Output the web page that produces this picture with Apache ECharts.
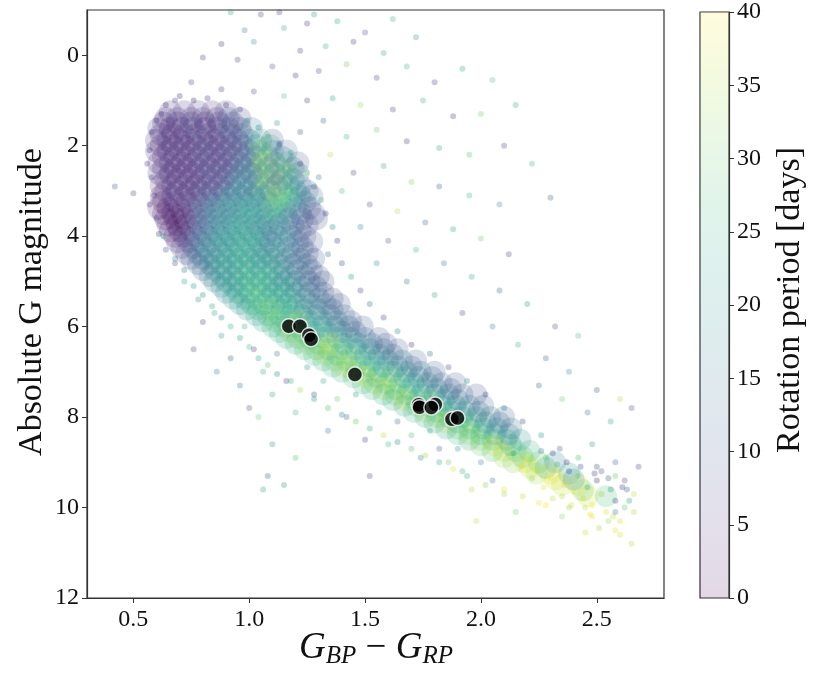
<!DOCTYPE html>
<html>
<head>
<meta charset="utf-8">
<script src="https://cdn.jsdelivr.net/npm/echarts@6/dist/echarts.min.js"></script>
<style>
  html, body { margin: 0; padding: 0; background: #fff; }
  #chart { width: 831px; height: 673px; }
</style>
</head>
<body>
<div id="chart"></div>
<script>
// viridis colormap used for the rotation period
var viridis = ['#440154', '#482878', '#3e4989', '#31688e', '#26828e',
  '#1f9e89', '#35b779', '#6ece58', '#b5de2b', '#fde725'];

// [G_BP - G_RP, M_G, period]  crowded parts of the diagram, one dot per crowded patch
var denseTurnoff = [
  [0.66, 1.25, 6], [0.72, 1.25, 5], [0.78, 1.25, 7], [0.84, 1.25, 4], [0.90, 1.25, 8],
  [0.63, 1.5, 5], [0.69, 1.5, 4], [0.75, 1.5, 6], [0.81, 1.5, 5], [0.87, 1.5, 7], [0.93, 1.5, 9],
  [0.62, 1.75, 5], [0.67, 1.75, 4], [0.72, 1.75, 6], [0.77, 1.75, 5], [0.82, 1.75, 7], [0.87, 1.75, 6], [0.92, 1.75, 8], [0.97, 1.75, 12],
  [0.62, 2.0, 4], [0.67, 2.0, 5], [0.72, 2.0, 4], [0.77, 2.0, 6], [0.82, 2.0, 5], [0.87, 2.0, 7], [0.92, 2.0, 6], [0.97, 2.0, 10], [1.03, 2.0, 18], [1.09, 2.0, 26],
  [0.63, 2.25, 5], [0.68, 2.25, 4], [0.73, 2.25, 6], [0.78, 2.25, 5], [0.83, 2.25, 4], [0.88, 2.25, 8], [0.93, 2.25, 7], [0.98, 2.25, 12], [1.03, 2.25, 14], [1.08, 2.25, 30], [1.14, 2.25, 12],
  [0.63, 2.5, 4], [0.68, 2.5, 5], [0.73, 2.5, 4], [0.78, 2.5, 6], [0.83, 2.5, 5], [0.88, 2.5, 7], [0.93, 2.5, 9], [0.98, 2.5, 14], [1.03, 2.5, 26], [1.08, 2.5, 12], [1.13, 2.5, 32], [1.19, 2.5, 18],
  [0.64, 2.75, 5], [0.69, 2.75, 4], [0.74, 2.75, 5], [0.79, 2.75, 6], [0.84, 2.75, 4], [0.89, 2.75, 8], [0.94, 2.75, 11], [0.99, 2.75, 18], [1.04, 2.75, 12], [1.09, 2.75, 33], [1.14, 2.75, 10], [1.19, 2.75, 20],
  [0.64, 3.0, 4], [0.69, 3.0, 5], [0.74, 3.0, 3], [0.79, 3.0, 6], [0.84, 3.0, 7], [0.89, 3.0, 10], [0.94, 3.0, 14], [0.99, 3.0, 20], [1.04, 3.0, 26], [1.09, 3.0, 14], [1.14, 3.0, 30], [1.20, 3.0, 22], [1.25, 3.0, 14],
  [0.63, 3.25, 3], [0.68, 3.25, 4], [0.73, 3.25, 5], [0.78, 3.25, 8], [0.83, 3.25, 10], [0.88, 3.25, 13], [0.93, 3.25, 16], [0.98, 3.25, 19], [1.03, 3.25, 22], [1.08, 3.25, 12], [1.13, 3.25, 28], [1.18, 3.25, 24], [1.24, 3.25, 16],
  [0.63, 3.5, 2], [0.67, 3.5, 2], [0.71, 3.5, 3], [0.76, 3.5, 9], [0.81, 3.5, 13], [0.86, 3.5, 16], [0.91, 3.5, 18], [0.96, 3.5, 20], [1.01, 3.5, 18], [1.06, 3.5, 22], [1.11, 3.5, 20], [1.16, 3.5, 17], [1.22, 3.5, 12], [1.28, 3.5, 9],
  [0.65, 3.75, 2], [0.69, 3.75, 2], [0.73, 3.75, 4], [0.78, 3.75, 10], [0.83, 3.75, 14], [0.88, 3.75, 17], [0.93, 3.75, 19], [0.98, 3.75, 21], [1.03, 3.75, 18], [1.08, 3.75, 16], [1.13, 3.75, 14], [1.19, 3.75, 12], [1.25, 3.75, 10],
  [0.68, 4.0, 3], [0.72, 4.0, 5], [0.77, 4.0, 11], [0.82, 4.0, 15], [0.87, 4.0, 18], [0.92, 4.0, 20], [0.97, 4.0, 22], [1.02, 4.0, 19], [1.07, 4.0, 17], [1.12, 4.0, 15], [1.18, 4.0, 13], [1.24, 4.0, 11],
  [0.71, 4.25, 6], [0.76, 4.25, 12], [0.81, 4.25, 16], [0.86, 4.25, 19], [0.91, 4.25, 21], [0.96, 4.25, 20], [1.01, 4.25, 22], [1.06, 4.25, 18], [1.11, 4.25, 16], [1.17, 4.25, 14], [1.23, 4.25, 12]
];

var denseTurnoffB = [
  [0.64, 1.4, 5], [0.69, 1.4, 7], [0.75, 1.4, 4], [0.80, 1.4, 6], [0.86, 1.4, 5], [0.91, 1.4, 9], [0.96, 1.4, 7],
  [0.61, 1.62, 6], [0.66, 1.62, 3], [0.71, 1.62, 5], [0.76, 1.62, 8], [0.81, 1.62, 4], [0.86, 1.62, 6], [0.91, 1.62, 10], [0.96, 1.62, 8], [1.01, 1.62, 16],
  [0.60, 1.88, 4], [0.65, 1.88, 6], [0.70, 1.88, 3], [0.75, 1.88, 5], [0.80, 1.88, 7], [0.85, 1.88, 4], [0.90, 1.88, 9], [0.95, 1.88, 6], [1.00, 1.88, 14], [1.05, 1.88, 24], [1.10, 1.88, 10],
  [0.60, 2.12, 5], [0.65, 2.12, 3], [0.70, 2.12, 6], [0.75, 2.12, 4], [0.80, 2.12, 7], [0.85, 2.12, 5], [0.90, 2.12, 6], [0.95, 2.12, 9], [1.00, 2.12, 10], [1.05, 2.12, 30], [1.10, 2.12, 16], [1.16, 2.12, 14],
  [0.61, 2.38, 4], [0.66, 2.38, 6], [0.71, 2.38, 3], [0.76, 2.38, 5], [0.81, 2.38, 8], [0.86, 2.38, 5], [0.91, 2.38, 7], [0.96, 2.38, 11], [1.01, 2.38, 12], [1.06, 2.38, 33], [1.11, 2.38, 14], [1.16, 2.38, 26], [1.21, 2.38, 10],
  [0.61, 2.62, 6], [0.66, 2.62, 3], [0.71, 2.62, 5], [0.76, 2.62, 4], [0.81, 2.62, 6], [0.86, 2.62, 9], [0.91, 2.62, 6], [0.96, 2.62, 16], [1.01, 2.62, 9], [1.06, 2.62, 28], [1.11, 2.62, 15], [1.16, 2.62, 30], [1.21, 2.62, 16],
  [0.62, 2.88, 4], [0.67, 2.88, 5], [0.72, 2.88, 6], [0.77, 2.88, 3], [0.82, 2.88, 8], [0.87, 2.88, 6], [0.92, 2.88, 13], [0.97, 2.88, 17], [1.02, 2.88, 14], [1.07, 2.88, 30], [1.12, 2.88, 11], [1.17, 2.88, 22], [1.22, 2.88, 12],
  [0.62, 3.12, 3], [0.67, 3.12, 6], [0.72, 3.12, 4], [0.77, 3.12, 7], [0.82, 3.12, 9], [0.87, 3.12, 12], [0.92, 3.12, 18], [0.97, 3.12, 15], [1.02, 3.12, 12], [1.07, 3.12, 21], [1.12, 3.12, 31], [1.17, 3.12, 27], [1.22, 3.12, 18], [1.27, 3.12, 11],
  [0.61, 3.38, 2], [0.65, 3.38, 3], [0.70, 3.38, 4], [0.75, 3.38, 6], [0.80, 3.38, 12], [0.85, 3.38, 15], [0.90, 3.38, 20], [0.95, 3.38, 17], [1.00, 3.38, 22], [1.05, 3.38, 19], [1.10, 3.38, 28], [1.15, 3.38, 23], [1.20, 3.38, 15], [1.26, 3.38, 10],
  [0.64, 3.62, 2], [0.68, 3.62, 3], [0.72, 3.62, 2], [0.77, 3.62, 8], [0.82, 3.62, 11], [0.87, 3.62, 18], [0.92, 3.62, 15], [0.97, 3.62, 22], [1.02, 3.62, 20], [1.07, 3.62, 17], [1.12, 3.62, 24], [1.17, 3.62, 13], [1.23, 3.62, 11], [1.29, 3.62, 8],
  [0.66, 3.88, 3], [0.70, 3.88, 2], [0.75, 3.88, 7], [0.80, 3.88, 12], [0.85, 3.88, 16], [0.90, 3.88, 19], [0.95, 3.88, 23], [1.00, 3.88, 17], [1.05, 3.88, 20], [1.10, 3.88, 14], [1.16, 3.88, 18], [1.22, 3.88, 10],
  [0.69, 4.12, 4], [0.74, 4.12, 8], [0.79, 4.12, 13], [0.84, 4.12, 17], [0.89, 4.12, 21], [0.94, 4.12, 18], [0.99, 4.12, 24], [1.04, 4.12, 21], [1.09, 4.12, 15], [1.15, 4.12, 19], [1.21, 4.12, 12], [1.27, 4.12, 9],
  [0.73, 4.38, 7], [0.78, 4.38, 13], [0.83, 4.38, 18], [0.88, 4.38, 16], [0.93, 4.38, 22], [0.98, 4.38, 24], [1.03, 4.38, 20], [1.08, 4.38, 17], [1.13, 4.38, 21], [1.19, 4.38, 13], [1.25, 4.38, 11]
];

var denseBand = [
  [0.75, 4.5, 10], [0.80, 4.5, 14], [0.85, 4.5, 18], [0.90, 4.5, 21], [0.95, 4.5, 22], [1.00, 4.5, 20], [1.05, 4.5, 19], [1.10, 4.5, 17], [1.16, 4.5, 15], [1.22, 4.5, 12], [1.28, 4.5, 10],
  [0.80, 4.75, 14], [0.85, 4.75, 17], [0.90, 4.75, 20], [0.95, 4.75, 22], [1.00, 4.75, 23], [1.05, 4.75, 21], [1.10, 4.75, 19], [1.15, 4.75, 16], [1.21, 4.75, 14], [1.27, 4.75, 11],
  [0.85, 5.0, 17], [0.90, 5.0, 20], [0.95, 5.0, 22], [1.00, 5.0, 24], [1.05, 5.0, 22], [1.10, 5.0, 20], [1.15, 5.0, 18], [1.20, 5.0, 15], [1.26, 5.0, 13], [1.32, 5.0, 10],
  [0.90, 5.25, 19], [0.95, 5.25, 22], [1.00, 5.25, 24], [1.05, 5.25, 25], [1.10, 5.25, 22], [1.15, 5.25, 20], [1.20, 5.25, 18], [1.26, 5.25, 15], [1.32, 5.25, 12],
  [0.96, 5.5, 20], [1.01, 5.5, 23], [1.06, 5.5, 26], [1.11, 5.5, 24], [1.16, 5.5, 22], [1.21, 5.5, 19], [1.27, 5.5, 17], [1.33, 5.5, 14], [1.39, 5.5, 11],
  [1.03, 5.75, 22], [1.08, 5.75, 25], [1.13, 5.75, 27], [1.18, 5.75, 24], [1.23, 5.75, 21], [1.29, 5.75, 18], [1.35, 5.75, 15], [1.41, 5.75, 12],
  [1.10, 6.0, 24], [1.15, 6.0, 28], [1.20, 6.0, 26], [1.25, 6.0, 23], [1.31, 6.0, 20], [1.37, 6.0, 17], [1.43, 6.0, 14], [1.49, 6.0, 10],
  [1.16, 6.25, 25], [1.21, 6.25, 30], [1.26, 6.25, 27], [1.32, 6.25, 24], [1.38, 6.25, 21], [1.44, 6.25, 18], [1.50, 6.25, 14], [1.56, 6.25, 11],
  [1.24, 6.5, 26], [1.29, 6.5, 31], [1.34, 6.5, 28], [1.40, 6.5, 25], [1.46, 6.5, 22], [1.52, 6.5, 18], [1.58, 6.5, 14], [1.64, 6.5, 11],
  [1.32, 6.75, 25], [1.37, 6.75, 32], [1.42, 6.75, 29], [1.48, 6.75, 26], [1.54, 6.75, 22], [1.60, 6.75, 19], [1.66, 6.75, 15], [1.72, 6.75, 12],
  [1.40, 7.0, 26], [1.45, 7.0, 34], [1.50, 7.0, 30], [1.56, 7.0, 26], [1.62, 7.0, 23], [1.68, 7.0, 19], [1.74, 7.0, 15], [1.80, 7.0, 12],
  [1.49, 7.25, 25], [1.54, 7.25, 33], [1.59, 7.25, 29], [1.65, 7.25, 26], [1.71, 7.25, 22], [1.77, 7.25, 18], [1.83, 7.25, 14], [1.89, 7.25, 11],
  [1.58, 7.5, 24], [1.63, 7.5, 31], [1.68, 7.5, 28], [1.74, 7.5, 25], [1.80, 7.5, 21], [1.86, 7.5, 17], [1.92, 7.5, 13], [1.98, 7.5, 10],
  [1.67, 7.75, 23], [1.72, 7.75, 30], [1.77, 7.75, 27], [1.83, 7.75, 24], [1.89, 7.75, 20], [1.95, 7.75, 16], [2.01, 7.75, 12],
  [1.76, 8.0, 24], [1.81, 8.0, 31], [1.86, 8.0, 27], [1.92, 8.0, 23], [1.98, 8.0, 20], [2.04, 8.0, 16], [2.10, 8.0, 12],
  [1.85, 8.25, 23], [1.90, 8.25, 30], [1.95, 8.25, 26], [2.01, 8.25, 23], [2.07, 8.25, 19], [2.13, 8.25, 15],
  [1.95, 8.5, 24], [2.00, 8.5, 32], [2.05, 8.5, 27], [2.11, 8.5, 24], [2.17, 8.5, 20],
  [2.05, 8.75, 28], [2.10, 8.75, 35], [2.15, 8.75, 30], [2.21, 8.75, 25],
  [2.14, 9.0, 32], [2.19, 9.0, 37], [2.25, 9.0, 30], [2.32, 9.0, 18],
  [2.24, 9.25, 34], [2.30, 9.25, 38], [2.38, 9.25, 22],
  [2.35, 9.5, 36], [2.42, 9.5, 39],
  [2.46, 9.75, 37], [2.54, 9.75, 28]
];

var denseBandB = [
  [0.78, 4.62, 12], [0.83, 4.62, 16], [0.88, 4.62, 22], [0.93, 4.62, 19], [0.98, 4.62, 24], [1.03, 4.62, 21], [1.08, 4.62, 23], [1.13, 4.62, 18], [1.19, 4.62, 13], [1.25, 4.62, 12],
  [0.83, 4.88, 15], [0.88, 4.88, 21], [0.93, 4.88, 18], [0.98, 4.88, 25], [1.03, 4.88, 22], [1.08, 4.88, 26], [1.13, 4.88, 20], [1.18, 4.88, 17], [1.24, 4.88, 12], [1.30, 4.88, 9],
  [0.88, 5.12, 18], [0.93, 5.12, 23], [0.98, 5.12, 21], [1.03, 5.12, 27], [1.08, 5.12, 23], [1.13, 5.12, 19], [1.18, 5.12, 22], [1.23, 5.12, 14], [1.29, 5.12, 11],
  [0.93, 5.38, 20], [0.98, 5.38, 24], [1.03, 5.38, 28], [1.08, 5.38, 22], [1.13, 5.38, 25], [1.18, 5.38, 21], [1.24, 5.38, 16], [1.30, 5.38, 13], [1.36, 5.38, 9],
  [0.99, 5.62, 21], [1.04, 5.62, 27], [1.09, 5.62, 31], [1.14, 5.62, 23], [1.19, 5.62, 26], [1.24, 5.62, 18], [1.30, 5.62, 15], [1.36, 5.62, 12],
  [1.06, 5.88, 23], [1.11, 5.88, 30], [1.16, 5.88, 26], [1.21, 5.88, 33], [1.26, 5.88, 22], [1.32, 5.88, 19], [1.38, 5.88, 14], [1.44, 5.88, 11],
  [1.13, 6.12, 24], [1.18, 6.12, 34], [1.23, 6.12, 27], [1.28, 6.12, 24], [1.34, 6.12, 21], [1.40, 6.12, 16], [1.46, 6.12, 12],
  [1.20, 6.38, 25], [1.25, 6.38, 33], [1.30, 6.38, 28], [1.35, 6.38, 36], [1.41, 6.38, 23], [1.47, 6.38, 19], [1.53, 6.38, 13], [1.59, 6.38, 10],
  [1.28, 6.62, 27], [1.33, 6.62, 35], [1.38, 6.62, 26], [1.44, 6.62, 30], [1.50, 6.62, 21], [1.56, 6.62, 17], [1.62, 6.62, 12],
  [1.36, 6.88, 26], [1.41, 6.88, 36], [1.46, 6.88, 28], [1.52, 6.88, 24], [1.58, 6.88, 20], [1.64, 6.88, 16], [1.70, 6.88, 11],
  [1.45, 7.12, 27], [1.50, 7.12, 37], [1.55, 7.12, 26], [1.61, 7.12, 30], [1.67, 7.12, 21], [1.73, 7.12, 16], [1.79, 7.12, 11],
  [1.53, 7.38, 26], [1.58, 7.38, 35], [1.63, 7.38, 29], [1.69, 7.38, 24], [1.75, 7.38, 20], [1.81, 7.38, 15], [1.87, 7.38, 10],
  [1.62, 7.62, 25], [1.67, 7.62, 36], [1.72, 7.62, 26], [1.78, 7.62, 29], [1.84, 7.62, 19], [1.90, 7.62, 14],
  [1.71, 7.88, 26], [1.76, 7.88, 34], [1.81, 7.88, 28], [1.87, 7.88, 22], [1.93, 7.88, 18], [1.99, 7.88, 13],
  [1.80, 8.12, 25], [1.85, 8.12, 35], [1.90, 8.12, 26], [1.96, 8.12, 28], [2.02, 8.12, 17], [2.08, 8.12, 12],
  [1.90, 8.38, 27], [1.95, 8.38, 33], [2.00, 8.38, 25], [2.06, 8.38, 21], [2.12, 8.38, 15],
  [2.00, 8.62, 30], [2.06, 8.62, 37], [2.13, 8.62, 22],
  [2.10, 8.88, 34], [2.18, 8.88, 28],
  [2.21, 9.12, 36], [2.28, 9.12, 24],
  [2.32, 9.38, 38], [2.40, 9.38, 18],
  [2.44, 9.62, 30]
];

// single, isolated stars
var sparseAbove = [
  [0.92, -0.95, 22], [1.05, -0.9, 8], [1.13, -0.95, 5], [1.28, -0.9, 20], [0.98, -0.55, 18], [1.15, -0.6, 24],
  [1.25, -0.7, 6], [1.38, -0.75, 23], [1.50, -0.5, 9], [1.62, -0.8, 26], [0.88, -0.25, 5], [1.02, -0.3, 20],
  [1.22, -0.1, 7], [1.33, -0.2, 25], [1.45, -0.3, 6], [1.58, -0.05, 24], [1.72, -0.4, 20], [0.80, 0.05, 6],
  [0.95, 0.1, 8], [1.10, 0.25, 10], [1.20, 0.45, 5], [1.30, 0.35, 9], [1.42, 0.2, 30], [1.55, 0.5, 8],
  [1.68, 0.25, 26], [1.80, 0.6, 7], [1.92, 0.3, 22], [2.05, 0.55, 28], [0.75, 0.6, 7], [0.88, 0.75, 5],
  [1.02, 0.8, 9], [1.15, 0.9, 28], [1.25, 1.0, 7], [1.36, 0.95, 22], [1.48, 1.1, 34], [1.62, 1.2, 8],
  [1.75, 1.0, 25], [1.88, 1.35, 6], [2.00, 1.3, 30], [2.15, 1.1, 24], [0.68, 1.0, 6], [0.62, 1.3, 5],
  [0.58, 1.7, 7], [1.12, 1.5, 20], [1.22, 1.7, 9], [1.32, 1.45, 12], [1.42, 1.8, 26], [1.55, 1.65, 30],
  [1.68, 1.9, 6], [1.82, 2.05, 22], [1.95, 2.2, 28], [2.10, 2.0, 8], [2.22, 2.4, 26], [2.30, 3.15, 10],
  [1.35, 2.2, 36], [1.45, 2.6, 8], [1.58, 2.45, 24], [1.70, 2.8, 32], [1.82, 2.9, 10], [1.95, 3.1, 26],
  [2.08, 3.3, 20], [1.30, 2.7, 15], [1.40, 3.0, 28], [1.52, 3.3, 9], [1.64, 3.45, 35], [1.76, 3.7, 13],
  [1.88, 3.85, 22], [2.00, 4.05, 30], [2.12, 4.4, 8], [1.48, 3.8, 18], [1.60, 4.1, 10], [1.72, 4.3, 26],
  [1.84, 4.6, 16], [1.96, 4.9, 24], [2.08, 5.2, 12], [2.20, 5.5, 20], [2.32, 6.0, 9], [2.42, 6.2, 28],
  [1.55, 4.6, 20], [1.68, 5.0, 14], [1.80, 5.3, 22], [1.92, 5.7, 8], [2.05, 6.0, 18], [2.16, 6.4, 26],
  [2.28, 6.7, 12], [2.38, 7.0, 20], [2.50, 7.4, 10], [2.60, 7.6, 35], [2.65, 7.8, 9], [2.56, 8.1, 22],
  [2.46, 7.9, 15], [2.35, 7.6, 30], [2.25, 7.3, 11],
  [0.42, 2.9, 10], [0.50, 3.05, 7], [0.56, 2.4, 6], [0.57, 3.3, 5], [0.60, 3.6, 10], [0.63, 4.0, 22]
];

var sparseEdges = [
  [0.64, 1.1, 5], [0.70, 0.9, 6], [0.76, 1.0, 4], [0.82, 0.95, 7], [0.90, 1.1, 5], [0.96, 1.2, 8],
  [0.60, 1.45, 6], [0.99, 1.45, 22], [1.04, 1.6, 18], [1.08, 1.8, 27], [1.13, 1.95, 9], [1.18, 2.15, 24],
  [1.22, 2.4, 7], [1.25, 2.6, 30], [1.28, 2.9, 12], [1.31, 3.2, 26], [1.33, 3.5, 8], [1.36, 3.8, 20],
  [1.38, 4.1, 6], [1.34, 4.4, 16], [1.40, 4.6, 10], [1.44, 4.9, 22], [1.48, 5.2, 8], [1.52, 5.5, 14],
  [1.58, 5.8, 9], [1.64, 6.1, 18], [1.70, 6.4, 7], [1.78, 6.6, 15], [1.86, 6.9, 10], [1.94, 7.2, 20],
  [2.02, 7.5, 8], [2.10, 7.8, 16], [2.18, 8.1, 9], [2.26, 8.4, 22], [2.34, 8.7, 12], [2.42, 8.9, 28],
  [2.50, 9.1, 10], [2.58, 9.3, 30], [2.63, 9.6, 12],
  [0.57, 2.1, 5], [0.58, 2.7, 6], [0.59, 3.1, 4], [0.61, 3.95, 8], [0.64, 4.3, 12], [0.68, 4.5, 20],
  [0.72, 4.75, 16], [0.76, 5.1, 22], [0.80, 5.3, 18], [0.84, 5.55, 24], [0.88, 5.8, 20], [0.92, 6.0, 26],
  [0.96, 6.25, 22], [1.00, 6.45, 28], [1.04, 6.7, 24], [1.08, 6.85, 30], [1.12, 7.05, 20], [1.18, 7.2, 26],
  [1.22, 7.4, 34], [1.28, 7.6, 22], [1.34, 7.8, 28], [1.40, 7.95, 18], [1.46, 8.1, 30], [1.52, 8.25, 24],
  [1.58, 8.4, 36], [1.64, 8.55, 20], [1.70, 8.7, 28], [1.76, 8.85, 34], [1.82, 9.0, 24], [1.88, 9.15, 38],
  [1.94, 9.3, 26], [2.02, 9.5, 32], [2.10, 9.6, 38], [2.18, 9.75, 36], [2.28, 9.95, 39], [2.38, 10.0, 34],
  [2.48, 10.2, 38]
];

var sparseRedEnd = [
  [2.20, 8.95, 38], [2.24, 9.2, 36], [2.28, 8.9, 30], [2.30, 9.35, 39], [2.33, 9.05, 26], [2.36, 9.5, 37],
  [2.38, 9.2, 8], [2.40, 9.65, 38], [2.42, 9.3, 30], [2.44, 9.8, 36], [2.46, 9.55, 24], [2.48, 9.95, 39],
  [2.50, 9.4, 6], [2.52, 9.7, 33], [2.54, 10.1, 38], [2.56, 9.6, 20], [2.58, 9.85, 7], [2.60, 10.3, 37],
  [2.62, 10.0, 30], [2.35, 9.75, 35], [2.27, 9.55, 38], [2.22, 9.35, 34], [2.18, 9.1, 39], [2.14, 8.8, 24],
  [2.26, 8.75, 14], [2.31, 8.8, 10], [2.37, 9.0, 5], [2.43, 9.1, 9], [2.49, 9.25, 7], [2.55, 9.35, 11],
  [2.61, 9.55, 6], [2.64, 9.85, 22], [2.57, 10.2, 36], [2.47, 10.15, 39], [2.39, 9.95, 37], [2.31, 9.8, 36],
  [2.51, 10.45, 34], [2.45, 10.55, 37], [2.58, 10.5, 38], [2.66, 10.1, 35]
];

var sparseBelow = [
  [0.68, 4.6, 8], [0.72, 5.0, 20], [0.78, 5.4, 18], [0.80, 5.9, 6], [0.76, 6.5, 8], [0.85, 5.7, 22],
  [0.88, 6.2, 20], [0.92, 6.7, 10], [0.86, 7.0, 18], [0.96, 7.3, 14], [0.98, 6.0, 24], [1.02, 6.5, 7],
  [1.06, 7.0, 24], [1.00, 7.8, 9], [1.04, 8.0, 30], [1.10, 7.5, 22], [1.12, 6.6, 16], [1.16, 7.2, 5],
  [1.20, 7.9, 26], [1.10, 8.6, 20], [1.08, 9.3, 10], [1.06, 9.6, 22], [1.15, 9.5, 18], [1.20, 8.9, 28],
  [1.25, 6.9, 20], [1.28, 7.5, 8], [1.32, 7.2, 24], [1.34, 8.3, 16], [1.38, 7.6, 30], [1.42, 8.0, 10],
  [1.46, 7.5, 20], [1.50, 8.5, 5], [1.52, 9.3, 7], [1.56, 7.9, 22], [1.60, 8.6, 26], [1.64, 8.1, 12],
  [1.70, 8.4, 28], [1.74, 8.9, 16], [1.78, 8.3, 22], [1.82, 8.7, 9], [1.86, 9.0, 30], [1.92, 9.2, 24],
  [1.96, 9.6, 35], [1.98, 10.3, 36], [2.05, 9.4, 14], [1.90, 8.7, 20], [2.10, 9.7, 34], [2.00, 9.0, 18],
  [2.15, 10.1, 30], [2.25, 9.9, 38], [2.35, 10.2, 32], [2.45, 10.0, 36], [2.55, 10.3, 34], [2.60, 10.6, 37],
  [2.65, 10.8, 35], [2.58, 10.1, 14], [2.62, 9.4, 8], [2.68, 9.1, 7], [2.66, 9.7, 36], [2.52, 9.2, 8],
  [2.58, 9.0, 12], [2.48, 8.6, 20]
];

// highlighted targets (black dots)
var targets = [
  [1.171, 5.99], [1.219, 5.99], [1.258, 6.19], [1.267, 6.28], [1.456, 7.06], [1.731, 7.73],
  [1.735, 7.78], [1.803, 7.72], [1.786, 7.79], [1.875, 8.05], [1.899, 8.02]
];

var colorbarMax = [40];

var serif = 'Liberation Serif';
var chart = echarts.init(document.getElementById('chart'));

var stops = viridis.map(function (c, i) {
  return { offset: i / (viridis.length - 1), color: c };
});

function cloud(data, size, alpha) {
  return { type: 'scatter', xAxisIndex: 0, yAxisIndex: 0, data: data, symbolSize: size, itemStyle: { opacity: alpha }, silent: true };
}

var option = {
  animation: false,
  backgroundColor: '#fff',
  grid: [
    { left: 87, top: 10, width: 577, height: 588, show: true, borderColor: '#333', borderWidth: 1.2, backgroundColor: 'transparent' },
    { left: 700, top: 10, width: 29, height: 588, show: true, borderColor: '#333', borderWidth: 1.2, backgroundColor: 'transparent' }
  ],
  xAxis: [
    {
      gridIndex: 0, type: 'value', min: 0.3, max: 2.79, splitNumber: 5,
      splitLine: { show: false },
      axisLine: { onZero: false, lineStyle: { color: '#333', width: 1.2 } },
      axisTick: { length: 5, lineStyle: { color: '#333' } },
      axisLabel: {
        showMinLabel: false, showMaxLabel: false, margin: 10,
        fontFamily: serif, fontSize: 24, color: '#111',
        formatter: function (v) { return v.toFixed(1); }
      }
    },
    { gridIndex: 1, type: 'category', data: ['cb'], show: false }
  ],
  yAxis: [
    {
      gridIndex: 0, type: 'value', min: -1, max: 12, inverse: true, splitNumber: 7,
      splitLine: { show: false },
      axisLine: { onZero: false, lineStyle: { color: '#333', width: 1.2 } },
      axisTick: { length: 5, lineStyle: { color: '#333' } },
      axisLabel: { showMinLabel: false, margin: 8, fontFamily: serif, fontSize: 24, color: '#111' }
    },
    {
      gridIndex: 1, type: 'value', min: 0, max: 40, interval: 5, position: 'right',
      splitLine: { show: false },
      axisLine: { show: true, lineStyle: { color: '#333', width: 1.2 } },
      axisTick: { show: true, length: 5, lineStyle: { color: '#333' } },
      axisLabel: { margin: 8, fontFamily: serif, fontSize: 24, color: '#111' }
    }
  ],
  visualMap: {
    show: false, type: 'continuous', min: 0, max: 40, dimension: 2,
    seriesIndex: [0, 1, 2, 3, 4, 5, 6, 7],
    inRange: { color: viridis }
  },
  graphic: [
    {
      type: 'text', x: 32, y: 302, rotation: Math.PI / 2,
      style: { text: 'Absolute G magnitude', fontFamily: serif, fontSize: 34, fill: '#111', align: 'center', verticalAlign: 'middle' }
    },
    {
      type: 'text', x: 790, y: 300, rotation: Math.PI / 2,
      style: { text: 'Rotation period [days]', fontFamily: serif, fontSize: 34, fill: '#111', align: 'center', verticalAlign: 'middle' }
    },
    {
      type: 'text', x: 376, y: 648,
      style: {
        text: '{g|G}{s|BP}{m| \u2212 }{g|G}{s|RP}',
        align: 'center', verticalAlign: 'middle',
        rich: {
          g: { fontFamily: serif, fontStyle: 'italic', fontSize: 37, fill: '#111', lineHeight: 38 },
          s: { fontFamily: serif, fontStyle: 'italic', fontSize: 25, fill: '#111', padding: [16, 0, 0, 0], lineHeight: 25 },
          m: { fontFamily: serif, fontSize: 37, fill: '#111', lineHeight: 38 }
        }
      }
    }
  ],
  series: [
    cloud(denseTurnoff, 23, 0.19),
    cloud(denseTurnoffB, 23, 0.19),
    cloud(denseBand, 22, 0.2),
    cloud(denseBandB, 22, 0.2),
    cloud(sparseAbove, 6, 0.28),
    cloud(sparseEdges, 6, 0.3),
    cloud(sparseRedEnd, 6, 0.3),
    cloud(sparseBelow, 6, 0.28),
    {
      type: 'scatter', xAxisIndex: 0, yAxisIndex: 0, data: targets, symbolSize: 15, z: 5,
      itemStyle: { color: '#000', borderColor: '#fff', borderWidth: 1.5 }
    },
    {
      type: 'bar', xAxisIndex: 1, yAxisIndex: 1, data: colorbarMax, barWidth: '100%', silent: true,
      itemStyle: { color: new echarts.graphic.LinearGradient(0, 1, 0, 0, stops), opacity: 0.15 }
    }
  ]
};

chart.setOption(option);
</script>
</body>
</html>
